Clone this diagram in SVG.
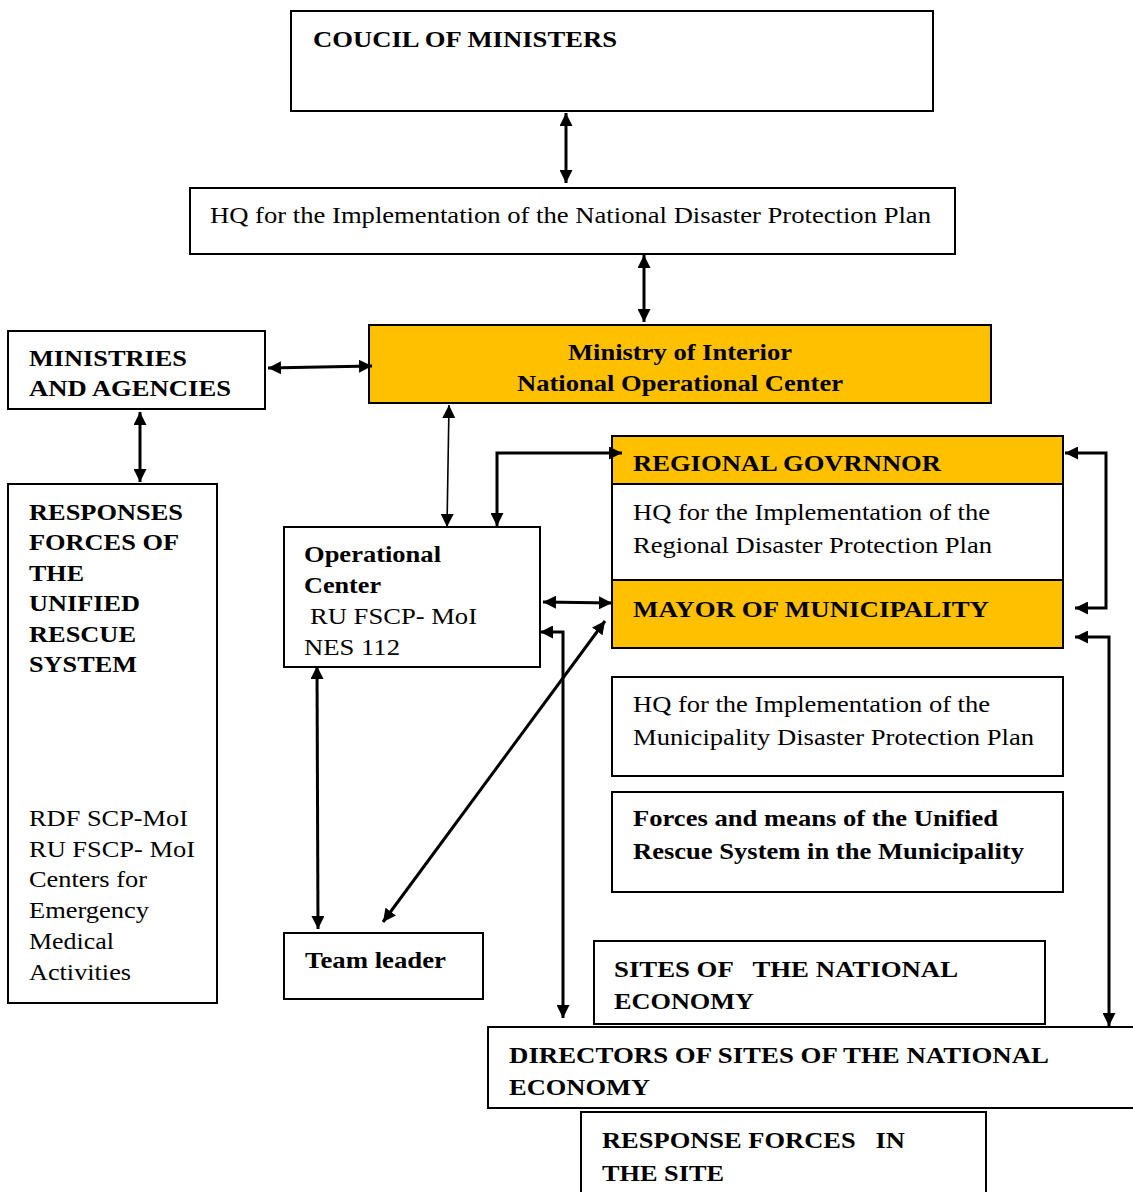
<svg xmlns="http://www.w3.org/2000/svg" width="1133" height="1192" viewBox="0 0 1133 1192">
<defs>
<style>
.box{fill:#fff;stroke:#000;stroke-width:2}
.yel{fill:#FFC000;stroke:#000;stroke-width:2}
.t{font-family:"Liberation Serif","Times New Roman",Tinos,"DejaVu Serif",serif;font-size:24px;fill:#000}
.b{font-weight:bold}
.c{fill:none;stroke:#000;stroke-width:3}
.thin{stroke-width:1.6}
</style>
<marker id="ah" viewBox="0 0 12 12" markerWidth="13" markerHeight="13" refX="12" refY="6" orient="auto-start-reverse" markerUnits="userSpaceOnUse">
<path d="M0,0 L12,6 L0,12 z" fill="#000"/>
</marker>
</defs>
<rect width="1133" height="1192" fill="#fff"/>

<g id="council">
<rect class="box" x="291" y="11" width="642" height="100"/>
<text class="t b" x="313" y="47" textLength="304" lengthAdjust="spacingAndGlyphs">COUCIL OF MINISTERS</text>
</g>

<g id="hq-national">
<rect class="box" x="190" y="188" width="765" height="66"/>
<text class="t" x="210" y="223" textLength="721" lengthAdjust="spacingAndGlyphs">HQ for the Implementation of the National Disaster Protection Plan</text>
</g>

<g id="moi">
<rect class="yel" x="369" y="325" width="622" height="78"/>
<text class="t b" x="568" y="360" textLength="224" lengthAdjust="spacingAndGlyphs">Ministry of Interior</text>
<text class="t b" x="517" y="391" textLength="326" lengthAdjust="spacingAndGlyphs">National Operational Center</text>
</g>

<g id="ministries">
<rect class="box" x="8" y="331" width="257" height="78"/>
<text class="t b" x="29" y="366" textLength="158" lengthAdjust="spacingAndGlyphs">MINISTRIES</text>
<text class="t b" x="29" y="396" textLength="202" lengthAdjust="spacingAndGlyphs">AND AGENCIES</text>
</g>

<g id="responses">
<rect class="box" x="8" y="484" width="209" height="519"/>
<text class="t b" x="29" y="520" textLength="154" lengthAdjust="spacingAndGlyphs">RESPONSES</text>
<text class="t b" x="29" y="550" textLength="150" lengthAdjust="spacingAndGlyphs">FORCES OF</text>
<text class="t b" x="29" y="581" textLength="55" lengthAdjust="spacingAndGlyphs">THE</text>
<text class="t b" x="29" y="611" textLength="111" lengthAdjust="spacingAndGlyphs">UNIFIED</text>
<text class="t b" x="29" y="642" textLength="107" lengthAdjust="spacingAndGlyphs">RESCUE</text>
<text class="t b" x="29" y="672" textLength="108" lengthAdjust="spacingAndGlyphs">SYSTEM</text>
<text class="t" x="29" y="826" textLength="159" lengthAdjust="spacingAndGlyphs">RDF SCP-MoI</text>
<text class="t" x="29" y="857" textLength="166" lengthAdjust="spacingAndGlyphs">RU FSCP- MoI</text>
<text class="t" x="29" y="887" textLength="118" lengthAdjust="spacingAndGlyphs">Centers for</text>
<text class="t" x="29" y="918" textLength="120" lengthAdjust="spacingAndGlyphs">Emergency</text>
<text class="t" x="29" y="949" textLength="85" lengthAdjust="spacingAndGlyphs">Medical</text>
<text class="t" x="29" y="980" textLength="102" lengthAdjust="spacingAndGlyphs">Activities</text>
</g>

<g id="operational-center">
<rect class="box" x="284" y="527" width="256" height="140"/>
<text class="t b" x="304" y="562" textLength="137" lengthAdjust="spacingAndGlyphs">Operational</text>
<text class="t b" x="304" y="593" textLength="77" lengthAdjust="spacingAndGlyphs">Center</text>
<text class="t" x="310" y="624" textLength="167" lengthAdjust="spacingAndGlyphs">RU FSCP- MoI</text>
<text class="t" x="304" y="655" textLength="96" lengthAdjust="spacingAndGlyphs">NES 112</text>
</g>

<g id="regional-governor">
<rect class="yel" x="612" y="436" width="451" height="48"/>
<text class="t b" x="633" y="471" textLength="308" lengthAdjust="spacingAndGlyphs">REGIONAL GOVRNNOR</text>
</g>

<g id="hq-regional">
<rect class="box" x="612" y="484" width="451" height="96"/>
<text class="t" x="633" y="520" textLength="357" lengthAdjust="spacingAndGlyphs">HQ for the Implementation of the</text>
<text class="t" x="633" y="553" textLength="359" lengthAdjust="spacingAndGlyphs">Regional Disaster Protection Plan</text>
</g>

<g id="mayor">
<rect class="yel" x="612" y="580" width="451" height="68"/>
<text class="t b" x="633" y="617" textLength="356" lengthAdjust="spacingAndGlyphs">MAYOR OF MUNICIPALITY</text>
</g>

<g id="hq-municipality">
<rect class="box" x="612" y="677" width="451" height="99"/>
<text class="t" x="633" y="712" textLength="357" lengthAdjust="spacingAndGlyphs">HQ for the Implementation of the</text>
<text class="t" x="633" y="745" textLength="401" lengthAdjust="spacingAndGlyphs">Municipality Disaster Protection Plan</text>
</g>

<g id="forces-municipality">
<rect class="box" x="612" y="792" width="451" height="100"/>
<text class="t b" x="633" y="826" textLength="365" lengthAdjust="spacingAndGlyphs">Forces and means of the Unified</text>
<text class="t b" x="633" y="859" textLength="391" lengthAdjust="spacingAndGlyphs">Rescue System in the Municipality</text>
</g>

<g id="team-leader">
<rect class="box" x="284" y="933" width="199" height="66"/>
<text class="t b" x="305" y="968" textLength="141" lengthAdjust="spacingAndGlyphs">Team leader</text>
</g>

<g id="sites">
<rect class="box" x="594" y="941" width="451" height="83"/>
<text class="t b" x="614" y="977" xml:space="preserve" textLength="344" lengthAdjust="spacingAndGlyphs">SITES OF   THE NATIONAL</text>
<text class="t b" x="614" y="1009" textLength="140" lengthAdjust="spacingAndGlyphs">ECONOMY</text>
</g>

<g id="directors">
<rect class="box" x="488" y="1027" width="660" height="81"/>
<text class="t b" x="509" y="1063" textLength="540" lengthAdjust="spacingAndGlyphs">DIRECTORS OF SITES OF THE NATIONAL</text>
<text class="t b" x="509" y="1095" textLength="141" lengthAdjust="spacingAndGlyphs">ECONOMY</text>
</g>

<g id="response-site">
<rect class="box" x="581" y="1112" width="405" height="90"/>
<text class="t b" x="602" y="1148" xml:space="preserve" textLength="303" lengthAdjust="spacingAndGlyphs">RESPONSE FORCES   IN</text>
<text class="t b" x="602" y="1181" textLength="122" lengthAdjust="spacingAndGlyphs">THE SITE</text>
</g>

<g id="connectors">
<line class="c" x1="566" y1="113" x2="566" y2="183" marker-start="url(#ah)" marker-end="url(#ah)"/>
<line class="c" x1="644" y1="255" x2="644" y2="322" marker-start="url(#ah)" marker-end="url(#ah)"/>
<line class="c" x1="268" y1="368" x2="372" y2="366" marker-start="url(#ah)" marker-end="url(#ah)"/>
<line class="c" x1="140" y1="412" x2="140" y2="482" marker-start="url(#ah)" marker-end="url(#ah)"/>
<line class="c thin" x1="449" y1="405" x2="447" y2="527" marker-start="url(#ah)" marker-end="url(#ah)"/>
<polyline class="c" points="497,526 497,453 622,453" marker-start="url(#ah)" marker-end="url(#ah)"/>
<line class="c" x1="543" y1="602" x2="612" y2="603" marker-start="url(#ah)" marker-end="url(#ah)"/>
<polyline class="c" points="540,632 563,632 563,1018" marker-start="url(#ah)" marker-end="url(#ah)"/>
<line class="c" x1="605" y1="621" x2="383" y2="922" marker-start="url(#ah)" marker-end="url(#ah)"/>
<line class="c" x1="317" y1="666" x2="318" y2="929" marker-start="url(#ah)" marker-end="url(#ah)"/>
<polyline class="c" points="1065,453 1106,453 1106,608 1075,608" marker-start="url(#ah)" marker-end="url(#ah)"/>
<polyline class="c" points="1075,637 1109,637 1109,1026" marker-start="url(#ah)" marker-end="url(#ah)"/>
</g>
</svg>
